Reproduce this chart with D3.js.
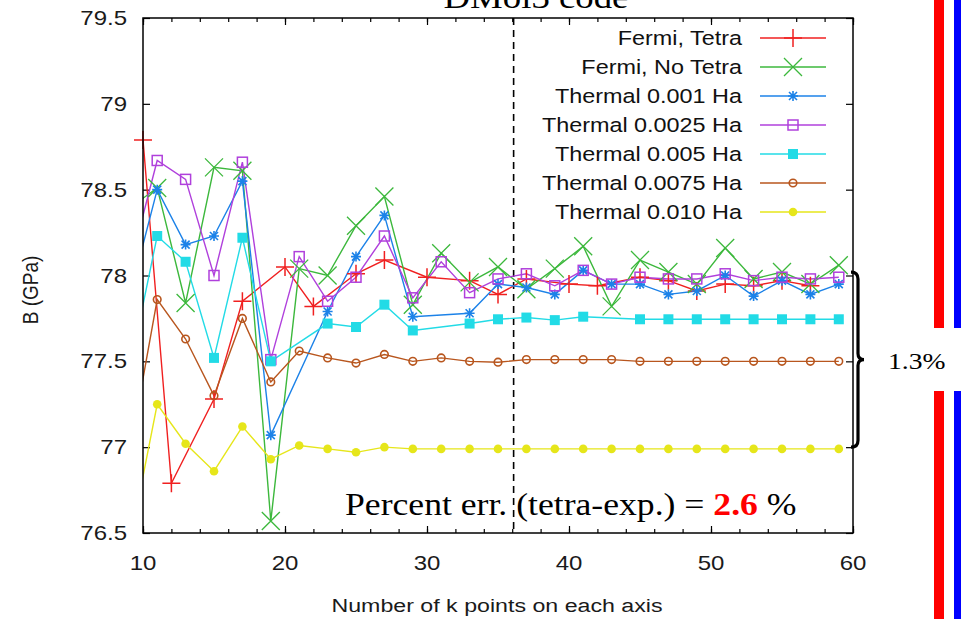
<!DOCTYPE html>
<html>
<head>
<meta charset="utf-8">
<script src="https://cdn.jsdelivr.net/npm/d3@7"></script>
<style>
  body { margin: 0; background: #fff; }
  svg { display: block; }
</style>
</head>
<body>
<svg id="chart" width="961" height="619"></svg>
<script>
// ---- data: bulk modulus B (GPa) vs. number of k points per axis ----
const kFermiTetra = [10, 12, 15, 17, 20, 22, 25, 27, 30, 33, 35, 37, 40, 42, 45, 47, 49, 51, 53, 55, 57];
const bFermiTetra = [78.79, 76.79, 77.28, 77.85, 78.05, 77.82, 78.01, 78.09, 77.99, 77.97, 77.89, 77.98, 77.95, 77.94, 77.99, 77.97, 77.91, 77.95, 77.94, 77.97, 77.94];

const kFermiNoTetra = [9, 11, 13, 15, 17, 19, 21, 23, 25, 27, 29, 31, 33, 35, 37, 39, 41, 43, 45, 47, 49, 51, 53, 55, 57, 59];
const bFermiNoTetra = [78.39, 78.51, 77.84, 78.63, 78.61, 76.57, 78.04, 78.00, 78.29, 78.46, 77.83, 78.13, 77.96, 78.05, 77.92, 78.04, 78.17, 77.82, 78.09, 78.02, 77.95, 78.16, 77.98, 78.02, 77.95, 78.06];

const kThermal0010 = [9, 11, 13, 15, 17, 19, 23, 25, 27, 29, 33, 35, 37, 39, 41, 43, 45, 47, 49, 51, 53, 55, 57, 59];
const bThermal0010 = [77.86, 78.50, 78.18, 78.23, 78.55, 77.07, 77.79, 78.11, 78.35, 77.76, 77.78, 77.95, 77.93, 77.89, 78.03, 77.95, 77.95, 77.89, 77.91, 78.00, 77.88, 77.97, 77.89, 77.95];

const kThermal0025 = [9, 11, 13, 15, 17, 19, 21, 23, 25, 27, 29, 31, 33, 35, 37, 39, 41, 43, 45, 47, 49, 51, 53, 55, 57, 59];
const bThermal0025 = [78.03, 78.67, 78.56, 78.00, 78.66, 77.51, 78.11, 77.85, 77.99, 78.23, 77.87, 78.08, 77.90, 77.98, 78.01, 77.94, 78.03, 77.95, 77.99, 77.98, 77.98, 78.01, 77.97, 77.99, 77.98, 77.99];

const kThermal0050 = [9, 11, 13, 15, 17, 19, 23, 25, 27, 29, 33, 35, 37, 39, 41, 45, 47, 49, 51, 53, 55, 57, 59];
const bThermal0050 = [77.43, 78.23, 78.08, 77.52, 78.22, 77.50, 77.72, 77.70, 77.83, 77.68, 77.72, 77.745, 77.755, 77.74, 77.76, 77.745, 77.745, 77.745, 77.745, 77.745, 77.745, 77.745, 77.745];

const kThermal0075 = [9, 11, 13, 15, 17, 19, 21, 23, 25, 27, 29, 31, 33, 35, 37, 39, 41, 43, 45, 47, 49, 51, 53, 55, 57, 59];
const bThermal0075 = [76.94, 77.86, 77.63, 77.30, 77.75, 77.38, 77.56, 77.52, 77.49, 77.54, 77.50, 77.52, 77.50, 77.495, 77.51, 77.51, 77.51, 77.51, 77.50, 77.50, 77.50, 77.50, 77.50, 77.50, 77.50, 77.50];

const kThermal0100 = [9, 11, 13, 15, 17, 19, 21, 23, 25, 27, 29, 31, 33, 35, 37, 39, 41, 43, 45, 47, 49, 51, 53, 55, 57, 59];
const bThermal0100 = [76.41, 77.25, 77.02, 76.86, 77.12, 76.93, 77.01, 76.99, 76.97, 77.00, 76.99, 76.99, 76.99, 76.99, 76.99, 76.99, 76.99, 76.99, 76.99, 76.99, 76.99, 76.99, 76.99, 76.99, 76.99, 76.99];

const seriesNames = ["Fermi, Tetra", "Fermi, No Tetra", "Thermal 0.001 Ha", "Thermal 0.0025 Ha",
                     "Thermal 0.005 Ha", "Thermal 0.0075 Ha", "Thermal 0.010 Ha"];
const seriesColors = ["#f02020", "#3cb83c", "#1c82e8", "#b040dc", "#22dbe6", "#b8561e", "#e6e61a"];
const seriesMarkers = ["plus", "cross", "star", "openSquare", "filledSquare", "ring", "dot"];
const seriesK = [kFermiTetra, kFermiNoTetra, kThermal0010, kThermal0025, kThermal0050, kThermal0075, kThermal0100];
const seriesB = [bFermiTetra, bFermiNoTetra, bThermal0010, bThermal0025, bThermal0050, bThermal0075, bThermal0100];

const xTicks = [10, 20, 30, 40, 50, 60];
const yTicks = [76.5, 77, 77.5, 78, 78.5, 79, 79.5];
const convergenceK = 36.1;      // dashed divider
const bracketRange = [77.0, 78.02];

// ---- layout ----
const svg = d3.select("#chart");
const plot = { left: 143, right: 853, top: 18, bottom: 533 };
const x = d3.scaleLinear().domain([10, 60]).range([plot.left, plot.right]);
const y = d3.scaleLinear().domain([76.5, 79.5]).range([plot.bottom, plot.top]);
const SX = 1.2;   // horizontal text stretch

const series = seriesNames.map((name, i) => ({
  name, color: seriesColors[i], marker: seriesMarkers[i],
  points: seriesK[i].map((k, j) => ({ k, b: seriesB[i][j] }))
}));

svg.append("defs").append("clipPath").attr("id", "plotClip")
  .append("rect")
  .attr("x", plot.left).attr("y", plot.top)
  .attr("width", plot.right - plot.left).attr("height", plot.bottom - plot.top);

// ---- title (runs off the top edge) ----
svg.append("g").attr("transform", `translate(536,8) scale(1.15,1)`)
  .append("text").attr("text-anchor", "middle")
  .attr("font-family", "'Liberation Serif', 'Times New Roman', serif")
  .attr("font-size", 32).attr("fill", "#000").text("DMol3 code");

// ---- ticks (inward, on all four sides) ----
const minorX = d3.range(10, 61, 2);
function tickAxis(axisFn, scale, values, size, transform) {
  const g = svg.append("g").attr("transform", transform)
    .call(axisFn(scale).tickValues(values).tickSize(size).tickFormat(""));
  g.select(".domain").remove();
  g.selectAll(".tick line").attr("stroke", "#000").attr("stroke-width", 1.2);
}
tickAxis(d3.axisBottom, x, minorX, -4, `translate(0,${plot.bottom})`);
tickAxis(d3.axisTop, x, minorX, -4, `translate(0,${plot.top})`);
tickAxis(d3.axisBottom, x, xTicks, -7, `translate(0,${plot.bottom})`);
tickAxis(d3.axisTop, x, xTicks, -7, `translate(0,${plot.top})`);
tickAxis(d3.axisLeft, y, yTicks, -7, `translate(${plot.left},0)`);
tickAxis(d3.axisRight, y, yTicks, -7, `translate(${plot.right},0)`);

// tick labels
const tickFont = "'Liberation Sans', Arial, sans-serif";
xTicks.forEach(t => {
  svg.append("g").attr("transform", `translate(${x(t)},570) scale(${SX},1)`)
    .append("text").attr("text-anchor", "middle")
    .attr("font-family", tickFont).attr("font-size", 20).attr("fill", "#1a1a1a").text(t);
});
yTicks.forEach(t => {
  svg.append("g").attr("transform", `translate(127,${y(t) + 7}) scale(${SX},1)`)
    .append("text").attr("text-anchor", "end")
    .attr("font-family", tickFont).attr("font-size", 20).attr("fill", "#1a1a1a").text(t);
});

// axis titles
svg.append("g").attr("transform", `translate(497,612) scale(1.22,1)`)
  .append("text").attr("text-anchor", "middle")
  .attr("font-family", tickFont).attr("font-size", 19).attr("fill", "#1a1a1a")
  .text("Number of k points on each axis");
svg.append("g").attr("transform", `translate(38,290) scale(${SX},1) rotate(-90)`)
  .append("text").attr("text-anchor", "middle")
  .attr("font-family", tickFont).attr("font-size", 19).attr("fill", "#1a1a1a")
  .text("B (GPa)");

// ---- annotation text inside the plot ----
const note = svg.append("g").attr("transform", `translate(345,515) scale(1.15,1)`)
  .append("text").attr("font-family", "'Liberation Serif', 'Times New Roman', serif")
  .attr("font-size", 31).attr("fill", "#000");
note.append("tspan").text("Percent err. (tetra-exp.) = ");
note.append("tspan").attr("fill", "#ff0000").attr("font-weight", "bold").text("2.6");
note.append("tspan").text(" %");

// ---- dashed divider ----
svg.append("line")
  .attr("x1", x(convergenceK)).attr("x2", x(convergenceK))
  .attr("y1", plot.top).attr("y2", plot.bottom)
  .attr("stroke", "#000").attr("stroke-width", 1.6).attr("stroke-dasharray", "7,5");

// ---- markers ----
function drawMarker(sel, type, color) {
  switch (type) {
    case "plus":
      sel.append("path").attr("d", "M-9,0H9M0,-9V9").attr("stroke", color).attr("stroke-width", 1.5).attr("fill", "none"); break;
    case "cross":
      sel.append("path").attr("d", "M-9,-9L9,9M-9,9L9,-9").attr("stroke", color).attr("stroke-width", 1.3).attr("fill", "none"); break;
    case "star":
      sel.append("path").attr("d", "M-5,0H5M0,-5V5M-4,-4L4,4M-4,4L4,-4").attr("stroke", color).attr("stroke-width", 1.6).attr("fill", "none"); break;
    case "openSquare":
      sel.append("rect").attr("x", -5).attr("y", -5).attr("width", 10).attr("height", 10)
        .attr("stroke", color).attr("stroke-width", 1.5).attr("fill", "none"); break;
    case "filledSquare":
      sel.append("rect").attr("x", -5).attr("y", -5).attr("width", 10).attr("height", 10).attr("fill", color); break;
    case "ring":
      sel.append("circle").attr("r", 3.8).attr("stroke", color).attr("stroke-width", 1.6).attr("fill", "none"); break;
    case "dot":
      sel.append("circle").attr("r", 4.3).attr("fill", color); break;
  }
}

// ---- series lines and points ----
const line = d3.line().x(d => x(d.k)).y(d => y(d.b));
const linesG = svg.append("g").attr("clip-path", "url(#plotClip)");
series.forEach(s => {
  linesG.append("path").datum(s.points).attr("d", line)
    .attr("fill", "none").attr("stroke", s.color).attr("stroke-width", 1.4);
});
series.forEach(s => {
  s.points.filter(p => p.k >= 10 && p.b >= 76.5).forEach(p => {
    const g = svg.append("g").attr("transform", `translate(${x(p.k)},${y(p.b)})`);
    drawMarker(g, s.marker, s.color);
  });
});

// ---- legend ----
series.forEach((s, i) => {
  const ly = 38 + i * 29;
  svg.append("g").attr("transform", `translate(742,${ly + 7}) scale(${SX},1)`)
    .append("text").attr("text-anchor", "end")
    .attr("font-family", tickFont).attr("font-size", 19.5).attr("fill", "#111").text(s.name);
  svg.append("line").attr("x1", 760).attr("x2", 826).attr("y1", ly).attr("y2", ly)
    .attr("stroke", s.color).attr("stroke-width", 1.4);
  drawMarker(svg.append("g").attr("transform", `translate(793,${ly})`), s.marker, s.color);
});

// ---- plot frame ----
svg.append("rect")
  .attr("x", plot.left).attr("y", plot.top)
  .attr("width", plot.right - plot.left).attr("height", plot.bottom - plot.top)
  .attr("fill", "none").attr("stroke", "#000").attr("stroke-width", 1.5);

// ---- brace marking the spread between smearing widths ----
const bt = y(bracketRange[1]), bb = y(bracketRange[0]), bm = (bt + bb) / 2, bx = 858;
svg.append("path")
  .attr("d", `M${bx - 7},${bt} Q${bx},${bt} ${bx},${bt + 7} L${bx},${bm - 6} Q${bx},${bm} ${bx + 6},${bm}
              Q${bx},${bm} ${bx},${bm + 6} L${bx},${bb - 7} Q${bx},${bb} ${bx - 7},${bb}`)
  .attr("fill", "none").attr("stroke", "#000").attr("stroke-width", 3.2);

svg.append("g").attr("transform", `translate(888,${bm + 9}) scale(1.15,1)`)
  .append("text").attr("font-family", "'Liberation Serif', 'Times New Roman', serif")
  .attr("font-size", 24).attr("fill", "#000").text("1.3%");

// ---- side bars ----
[[934, 10, "#ff0000"], [954, 7, "#0000ff"]].forEach(([bxl, w, c]) => {
  svg.append("rect").attr("x", bxl).attr("y", 0).attr("width", w).attr("height", 328).attr("fill", c);
  svg.append("rect").attr("x", bxl).attr("y", 391).attr("width", w).attr("height", 228).attr("fill", c);
});
</script>
</body>
</html>
